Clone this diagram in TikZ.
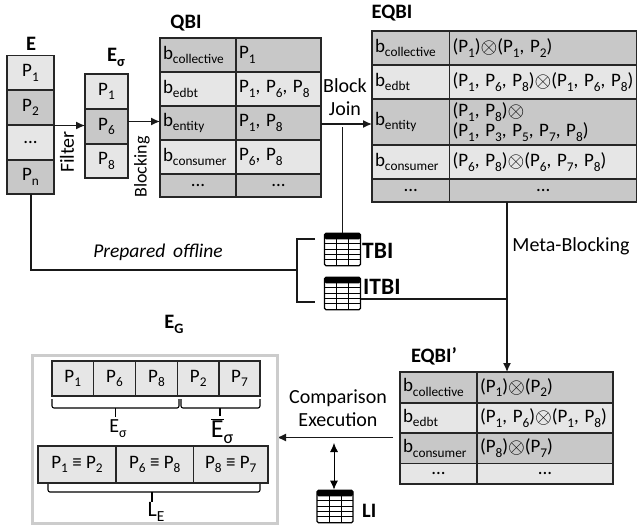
\documentclass[tikz,border=0pt]{standalone}
\usepackage{fontspec}
\usepackage{graphicx}
\setmainfont{Carlito}
\usetikzlibrary{arrows.meta,calc}

\definecolor{lightcell}{HTML}{E6E6E6}
\definecolor{darkcell}{HTML}{C8C8C8}
\definecolor{frameline}{HTML}{CCCCCC}

\newcommand{\sbs}[1]{\raisebox{-.5ex}{\scalebox{.7}{#1}}}
\newcommand{\pn}[1]{P\sbs{#1}}
\newcommand{\bl}[1]{b\sbs{#1}}
\newcommand{\otm}{\raisebox{-.12ex}{\scalebox{1.25}{$\otimes$}}}
\newcommand{\cma}{,\kern.3em}

\tikzset{
    cell/.style={draw=black!85, line width=1.3pt, inner sep=3pt, outer sep=0pt, anchor=north west,
        font=\fontsize{19}{20}\selectfont},
    leftcell/.style={cell, align=left, minimum width=#1, text width=#1-6},
    midcell/.style={cell, align=center, minimum width=#1},
    heading/.style={font=\fontsize{20.5}{22}\bfseries\selectfont, inner sep=0pt},
    iconlabel/.style={font=\fontsize{23.5}{24}\bfseries\selectfont, inner sep=0pt, anchor=west},
    plainlabel/.style={font=\fontsize{20}{23}\selectfont, inner sep=0pt, align=center},
    flow/.style={line width=1.3pt, draw=black!90},
    arrowflow/.style={flow, -{Latex[length=9pt,width=8pt]}},
    bracket/.style={line width=1.1pt, rounded corners=2pt},
    tableicon/.style={draw=black, line width=1.3pt, rounded corners=1.5pt, minimum width=36, minimum height=32.5, inner sep=0pt,
        path picture={
            \fill[black] (path picture bounding box.north west) rectangle ([yshift=-6]path picture bounding box.north east);
            \foreach \f in {.33,.49,.65,.81} {
                \draw[line width=1pt] ($(path picture bounding box.north west)!\f!(path picture bounding box.south west)$) -- ($(path picture bounding box.north east)!\f!(path picture bounding box.south east)$);
            }
            \foreach \f in {.34,.67} {
                \draw[line width=1pt] ($(path picture bounding box.north west)!\f!(path picture bounding box.north east)$) -- ($(path picture bounding box.south west)!\f!(path picture bounding box.south east)$);
            }
        }},
}

\begin{document}
\begin{tikzpicture}[x=1pt, y=-1pt]
    \useasboundingbox (0,0) rectangle (637,528);

    % Entity collection
    \node[heading] (elabel) at (31,44) {E};
    \foreach \n/\ya/\yb/\fillc/\val in {1/55.5/90/lightcell/{\pn{1}}, 2/90/125/darkcell/{\pn{2}}, 3/125/160/lightcell/{...}, 4/160/194/darkcell/{\pn{n}}}
        \node[midcell=47, fill=\fillc, minimum height=\yb-\ya] (e\n) at (7,\ya) {\val};

    % Filtered entities
    \node[heading] (eslabel) at (116,57) {E\sbs{σ}};
    \foreach \n/\ya/\yb/\fillc/\val in {1/74/109/lightcell/{\pn{1}}, 2/109/144/darkcell/{\pn{6}}, 3/144/178/lightcell/{\pn{8}}}
        \node[midcell=43, fill=\fillc, minimum height=\yb-\ya] (es\n) at (85,\ya) {\val};

    % QBI
    \node[heading] (qbilabel) at (186,23) {QBI};
    \foreach \n/\ya/\yb/\fillc/\lab/\val in {1/38/72/darkcell/{\bl{collective}}/{\pn{1}}, 2/72/106/lightcell/{\bl{edbt}}/{\pn{1}\cma\pn{6}\cma\pn{8}}, 3/106/140/darkcell/{\bl{entity}}/{\pn{1}\cma\pn{8}}, 4/140/174/lightcell/{\bl{consumer}}/{\pn{6}\cma\pn{8}}}
    {
        \node[leftcell=76, fill=\fillc, minimum height=\yb-\ya] (qbi\n l) at (160,\ya) {\lab};
        \node[leftcell=85, fill=\fillc, minimum height=\yb-\ya] (qbi\n r) at (236,\ya) {\val};
    }
    \node[midcell=76, fill=darkcell, minimum height=23] (qbi5l) at (160,174) {...};
    \node[midcell=85, fill=darkcell, minimum height=23] (qbi5r) at (236,174) {...};

    % EQBI
    \node[heading] (eqbilabel) at (392,13) {EQBI};
    \foreach \n/\ya/\yb/\fillc/\lab/\val in {1/31/65/darkcell/{\bl{collective}}/{(\pn{1})\otm(\pn{1}\cma\pn{2})}, 2/65/99/lightcell/{\bl{edbt}}/{(\pn{1}\cma\pn{6}\cma\pn{8})\otm(\pn{1}\cma\pn{6}\cma\pn{8})}, 3/99/145/darkcell/{\bl{entity}}/{(\pn{1}\cma\pn{8})\otm\\(\pn{1}\cma\pn{3}\cma\pn{5}\cma\pn{7}\cma\pn{8})}, 4/145/179/lightcell/{\bl{consumer}}/{(\pn{6}\cma\pn{8})\otm(\pn{6}\cma\pn{7}\cma\pn{8})}}
    {
        \node[leftcell=77.5, fill=\fillc, minimum height=\yb-\ya] (eq\n l) at (372,\ya) {\lab};
        \node[leftcell=187.5, fill=\fillc, minimum height=\yb-\ya] (eq\n r) at (449.5,\ya) {\val};
    }
    \node[midcell=77.5, fill=darkcell, minimum height=23] (eq5l) at (372,179) {...};
    \node[midcell=187.5, fill=darkcell, minimum height=23] (eq5r) at (449.5,179) {...};

    % Pruned EQBI
    \node[heading] (eqplabel) at (434,356) {EQBI’};
    \foreach \n/\ya/\yb/\fillc/\lab/\val in {1/372/403/darkcell/{\bl{collective}}/{(\pn{1})\otm(\pn{2})}, 2/403/433/lightcell/{\bl{edbt}}/{(\pn{1}\cma\pn{6})\otm(\pn{1}\cma\pn{8})}, 3/433/463.5/darkcell/{\bl{consumer}}/{(\pn{8})\otm(\pn{7})}}
    {
        \node[leftcell=77, fill=\fillc, minimum height=\yb-\ya] (eqp\n l) at (400,\ya) {\lab};
        \node[leftcell=136, fill=\fillc, minimum height=\yb-\ya] (eqp\n r) at (477,\ya) {\val};
    }
    \node[midcell=77, fill=lightcell, minimum height=20.5] (eqp4l) at (400,463.5) {...};
    \node[midcell=136, fill=lightcell, minimum height=20.5] (eqp4r) at (477,463.5) {...};

    % Table icons
    \node[tableicon] (tbi) at (342.5,249.5) {};
    \node[iconlabel] (tbilabel) at (362,251) {TBI};
    \node[tableicon] (itbi) at (342.5,293.5) {};
    \node[iconlabel] (itbilabel) at (363,287) {ITBI};
    \node[tableicon] (li) at (335,506.5) {};
    \node[heading, anchor=west] (lilabel) at (362,511) {LI};

    % Connectors
    \coordinate (filtera) at (54,125.5);
    \coordinate (filterb) at (85,125.5);
    \draw[arrowflow] (filtera) -- (filterb);
    \node[plainlabel, rotate=90] (filterlabel) at (67,152) {Filter};
    \coordinate (blocka) at (128,121.5);
    \coordinate (blockb) at (160,121.5);
    \draw[arrowflow] (blocka) -- (blockb);
    \node[plainlabel, rotate=90, font=\fontsize{18}{20}\selectfont] (blockinglabel) at (142,167) {Blocking};
    \coordinate (joina) at (321,124);
    \coordinate (joinb) at (372,124);
    \draw[arrowflow] (joina) -- (joinb);
    \node[plainlabel] (joinlabel) at (345,97.5) {Block\\Join};
    \coordinate (tbiup) at (342.5,127);
    \draw[flow] (tbiup) -- (tbi.north);

    % Offline path
    \coordinate (offcorner) at (297,270);
    \coordinate (tbiin) at (315,239);
    \coordinate (itbiin) at (315,302);
    \coordinate (bendtop) at (297,239);
    \coordinate (bendbot) at (297,302);
    \draw[flow] (e4.south -| elabel) |- (offcorner);
    \draw[flow] (tbiin) -- (bendtop) -- (bendbot) -- (itbiin);
    \node[plainlabel, font=\fontsize{19.5}{20}\itshape\selectfont] (offlabel) at (158,252) {Prepared\, offline};

    % Meta-blocking
    \coordinate (metatop) at (507,202);
    \coordinate (metabot) at (507,372);
    \coordinate (metajoin) at (507,299);
    \draw[arrowflow] (metatop) -- (metabot);
    \draw[flow] (itbi.east |- metajoin) -- (metajoin);
    \node[plainlabel] (metalabel) at (571,246) {Meta-Blocking};

    % Comparison
    \coordinate (compa) at (393,437.5);
    \coordinate (compb) at (277,437.5);
    \draw[arrowflow] (compa) -- (compb);
    \node[plainlabel] (complabel) at (338,408) {Comparison\\Execution};
    \coordinate (lia) at (334,443);
    \draw[{Latex[length=9pt,width=8pt]}-{Latex[length=9pt,width=8pt]}, line width=.8pt] (lia) -- (lia |- li.north);

    % Results
    \node[heading] (eglabel) at (174,324) {E\sbs{G}};
    \node[draw=frameline, line width=2.5pt, minimum width=245, minimum height=168, inner sep=0pt, anchor=north west] (frame) at (31,354) {};
    \foreach \n/\xa/\w/\val in {1/52/41.5/{\pn{1}}, 2/93.5/42/{\pn{6}}, 3/135.5/42/{\pn{8}}, 4/177.5/41.5/{\pn{2}}, 5/219/41/{\pn{7}}}
        \node[midcell=\w, fill=lightcell, minimum height=35] (g\n) at (\xa,361) {\val};
    \foreach \n/\xa/\w/\val in {1/38/78/{\pn{1} ≡ \pn{2}}, 2/116/77.5/{\pn{6} ≡ \pn{8}}, 3/193.5/74.5/{\pn{8} ≡ \pn{7}}}
        \node[midcell=\w, fill=lightcell, minimum height=37] (m\n) at (\xa,446) {\val};
    \draw[bracket] (52,399) -- (52,408) -- (179,408) -- (179,399);
    \draw[bracket] (115.5,408) -- (115.5,417);
    \draw[bracket] (181,399) -- (181,408) -- (260,408) -- (260,399);
    \draw[bracket] (220,408) -- (220,416);
    \draw[bracket] (48,484) -- (48,492) -- (260,492) -- (260,484);
    \draw[bracket] (152,492) -- (152,502);
    \node[plainlabel] (gsel) at (118,429) {E\sbs{σ}};
    \node[plainlabel, font=\fontsize{26}{26}\selectfont] (gnot) at (222,431) {$\overline{\mbox{E}}$\sbs{σ}};
    \node[plainlabel, font=\fontsize{22}{22}\selectfont] (gle) at (156,512) {L\sbs{E}};
\end{tikzpicture}
\end{document}
